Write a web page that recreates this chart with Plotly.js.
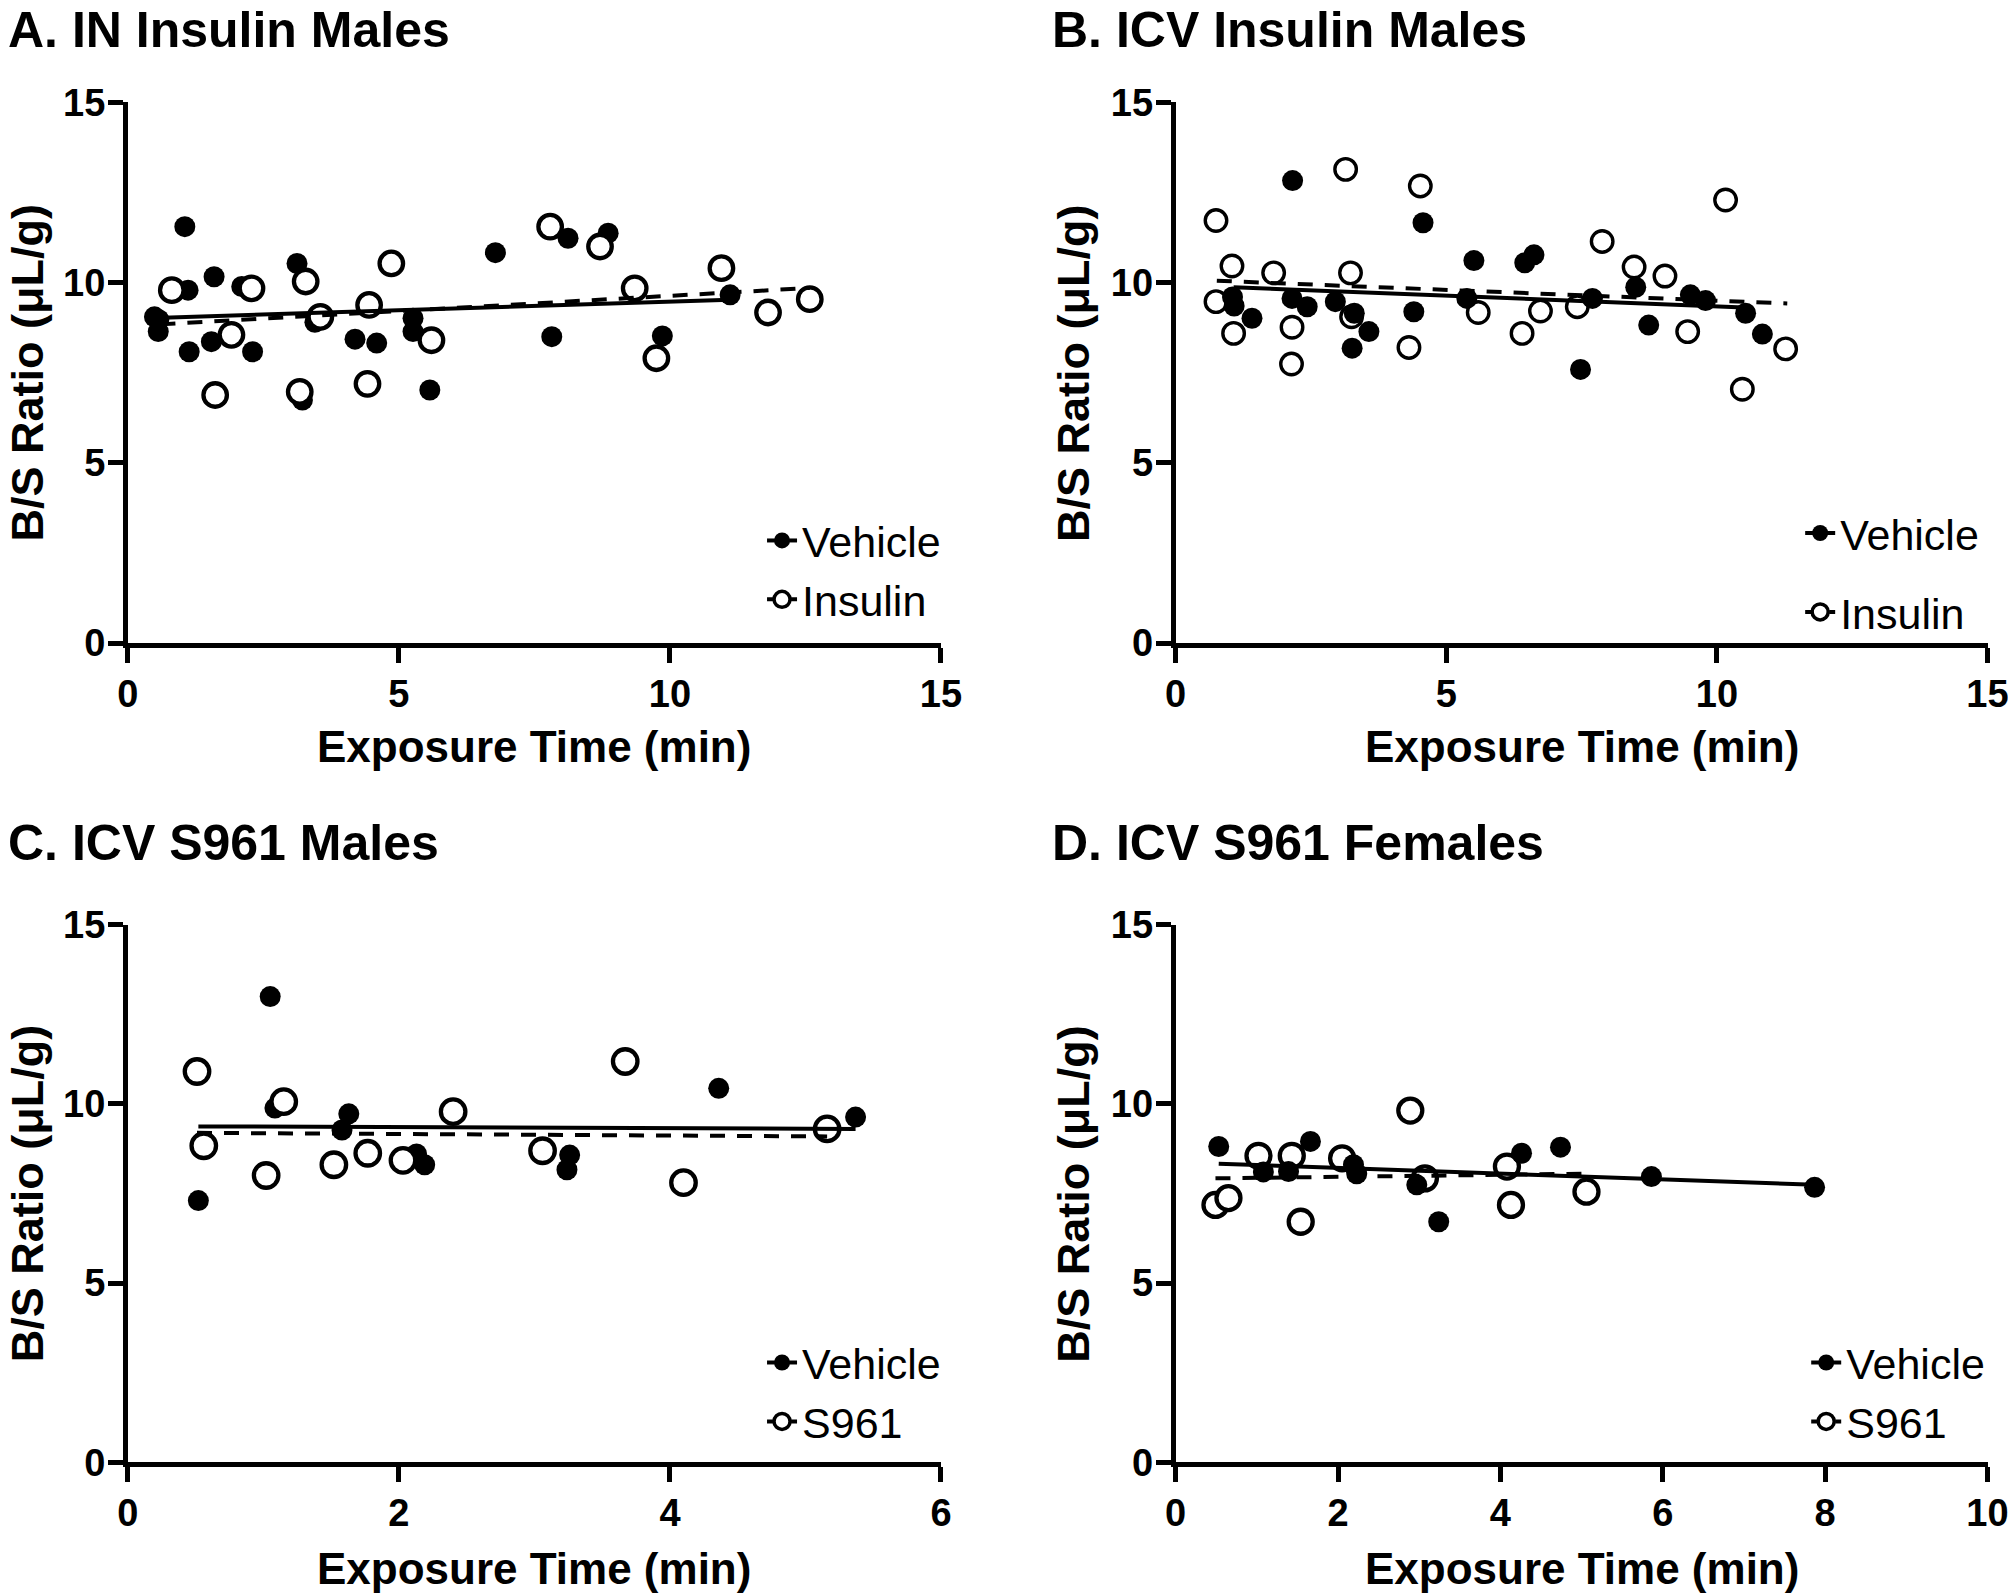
<!DOCTYPE html>
<html>
<head>
<meta charset="utf-8">
<script src="https://cdn.plot.ly/plotly-3.0.1.min.js"></script>
<style>html,body{margin:0;padding:0;background:#fff;}#chart{width:2008px;height:1594px;}</style>
</head>
<body>
<div id="chart"></div>
<script>
// ---------- Panel A: IN Insulin Males ----------
const aVehX = [0.49,0.57,0.56,1.05,1.11,1.13,1.54,1.59,2.10,2.30,3.12,3.22,3.45,4.19,4.59,5.26,5.26,5.57,5.65,6.78,7.82,8.12,8.86,9.86,11.11];
const aVehY = [9.05,8.97,8.64,11.55,9.79,8.08,8.36,10.16,9.89,8.08,10.53,6.74,8.90,8.43,8.32,9.01,8.64,7.02,8.45,10.83,8.50,11.23,11.37,8.52,9.66];
const aInsX = [0.81,1.61,1.91,2.28,3.17,3.28,3.55,4.42,4.45,4.86,5.60,7.79,8.71,9.35,9.75,10.95,11.81,12.58];
const aInsY = [9.79,6.88,8.55,9.84,6.97,10.03,9.05,7.19,9.38,10.53,8.40,11.55,11.00,9.84,7.90,10.40,9.17,9.54];
const aVehFitX = [0.50,11.11], aVehFitY = [9.02,9.52];
const aInsFitX = [0.60,12.58], aInsFitY = [8.84,9.85];

// ---------- Panel B: ICV Insulin Males ----------
const bVehX = [1.05,1.08,1.41,2.15,2.16,2.43,2.95,3.26,3.30,3.57,4.40,4.57,5.38,5.51,6.45,6.62,7.48,7.70,8.50,8.74,9.51,9.79,10.53,10.84];
const bVehY = [9.60,9.35,9.01,9.56,12.83,9.33,9.47,8.18,9.15,8.64,9.19,11.66,9.56,10.61,10.55,10.77,7.59,9.56,9.87,8.82,9.66,9.50,9.15,8.57];
const bInsX = [0.745,0.745,1.04,1.07,1.81,2.14,2.15,3.14,3.23,3.25,4.31,4.52,5.59,6.40,6.74,7.42,7.88,8.47,9.04,9.46,10.16,10.47,11.27];
const bInsY = [11.72,9.47,10.46,8.59,10.27,7.74,8.76,13.14,10.27,9.05,8.20,12.68,9.17,8.59,9.21,9.33,11.14,10.43,10.18,8.64,12.29,7.04,8.16];
const bVehFitX = [1.07,10.50], bVehFitY = [9.87,9.31];
const bInsFitX = [0.76,11.30], bInsFitY = [10.05,9.42];

// ---------- Panel C: ICV S961 Males ----------
const cVehX = [0.52,1.05,1.085,1.58,1.63,2.13,2.19,3.24,3.26,4.36,5.37];
const cVehY = [7.30,12.99,9.88,9.27,9.72,8.60,8.30,8.16,8.57,10.43,9.63];
const cS961X = [0.51,0.56,1.02,1.15,1.52,1.77,2.03,2.40,3.06,3.67,4.10,5.16];
const cS961Y = [10.90,8.83,8.00,10.06,8.30,8.62,8.42,9.78,8.69,11.18,7.80,9.30];
const cVehFitX = [0.52,5.37], cVehFitY = [9.37,9.30];
const cS961FitX = [0.51,5.16], cS961FitY = [9.19,9.09];

// ---------- Panel D: ICV S961 Females ----------
const dVehX = [0.53,1.08,1.39,1.66,2.19,2.23,2.97,3.24,4.26,4.74,5.86,7.87];
const dVehY = [8.81,8.10,8.11,8.95,8.30,8.05,7.74,6.71,8.62,8.79,7.97,7.67];
const dS961X = [0.49,0.65,1.02,1.43,1.54,2.05,2.89,3.07,4.08,4.13,5.06];
const dS961Y = [7.18,7.37,8.55,8.55,6.71,8.48,9.81,7.92,8.25,7.18,7.55];
const dVehFitX = [0.53,7.87], dVehFitY = [8.33,7.74];
const dS961FitX = [0.49,5.06], dS961FitY = [7.92,8.05];

// ---------- Text ----------
const panelTitles = ["A. IN Insulin Males","B. ICV Insulin Males","C. ICV S961 Males","D. ICV S961 Females"];
const xTitle = "Exposure Time (min)";
const yTitle = "B/S Ratio (\u03bcL/g)";
const groupNames = [["Vehicle","Insulin"],["Vehicle","Insulin"],["Vehicle","S961"],["Vehicle","S961"]];
const xRanges = [[0,15],[0,15],[0,6],[0,10]];
const xDticks = [5,5,2,2];
const yRange = [0,15];
const yDtick = 5;

const FONT = "Liberation Sans, Arial, sans-serif";
const BLACK = "#000";
const DASH = "15px,12px";

function filledTrace(x,y,ax){
  return {type:"scatter",mode:"markers",x:x,y:y,xaxis:"x"+ax,yaxis:"y"+ax,showlegend:false,hoverinfo:"skip",
    marker:{symbol:"circle",size:21,color:BLACK,line:{width:0}}};
}
function openTrace(x,y,ax,size,lw){
  return {type:"scatter",mode:"markers",x:x,y:y,xaxis:"x"+ax,yaxis:"y"+ax,showlegend:false,hoverinfo:"skip",
    marker:{symbol:"circle",size:size,color:"#fff",line:{width:lw,color:BLACK}}};
}
function fitTrace(x,y,ax,dash){
  return {type:"scatter",mode:"lines",x:x,y:y,xaxis:"x"+ax,yaxis:"y"+ax,showlegend:false,hoverinfo:"skip",
    line:{color:BLACK,width:4,dash:dash}};
}
function legendTrace(name,legend,open,dash,group,lw){
  return {type:"scatter",mode:"lines+markers",x:[null],y:[null],name:name,legend:legend,legendgroup:group,
    line:{color:BLACK,width:4,dash:dash},
    marker:open?{symbol:"circle",size:16,color:"#fff",line:{width:lw,color:BLACK}}
               :{symbol:"circle",size:16,color:BLACK,line:{width:0}}};
}

const axSuffix = ["","2","3","4"];
const traces = [
  // A
  filledTrace(aVehX,aVehY,""),
  openTrace(aInsX,aInsY,"",23.5,4.3),
  fitTrace(aVehFitX,aVehFitY,"","solid"),
  fitTrace(aInsFitX,aInsFitY,"",DASH),
  // B
  openTrace(bInsX,bInsY,"2",21.5,3.4),
  filledTrace(bVehX,bVehY,"2"),
  fitTrace(bVehFitX,bVehFitY,"2","solid"),
  fitTrace(bInsFitX,bInsFitY,"2",DASH),
  // C
  filledTrace(cVehX,cVehY,"3"),
  openTrace(cS961X,cS961Y,"3",24.5,4.3),
  fitTrace(cVehFitX,cVehFitY,"3","solid"),
  fitTrace(cS961FitX,cS961FitY,"3",DASH),
  // D
  openTrace(dS961X,dS961Y,"4",24,4.3),
  filledTrace(dVehX,dVehY,"4"),
  fitTrace(dVehFitX,dVehFitY,"4","solid"),
  fitTrace(dS961FitX,dS961FitY,"4",DASH),
];
const legendIds = ["legend","legend2","legend3","legend4"];
groupNames.forEach((g,i)=>{
  traces.push(legendTrace(g[0],legendIds[i],false,"solid","v"+i,4));
  traces.push(legendTrace(g[1],legendIds[i],true,"dash","t"+i,3.5));
});

const xDomains = [[0.0637,0.4686],[0.5855,0.9898],[0.0637,0.4686],[0.5855,0.9898]];
const yDomains = [[0.5966,0.9358],[0.5966,0.9358],[0.0826,0.4200],[0.0826,0.4200]];

const layout = {
  width:2008,height:1594,
  margin:{l:0,r:0,t:0,b:0},
  paper_bgcolor:"#fff",plot_bgcolor:"#fff",
  font:{family:FONT,color:BLACK},
  annotations:[],
};
function axisCommon(){
  return {showgrid:false,zeroline:false,showline:true,linecolor:BLACK,linewidth:5,
    ticks:"outside",ticklen:15,tickwidth:5,tickcolor:BLACK,ticklabeloverflow:"allow",
    tickfont:{family:FONT,size:38,color:BLACK,weight:"bold"},fixedrange:true};
}
for(let i=0;i<4;i++){
  const s = axSuffix[i];
  const xa = axisCommon();
  Object.assign(xa,{domain:xDomains[i],range:xRanges[i],dtick:xDticks[i],tick0:0,anchor:"y"+s,ticklabelstandoff:-2});
  const ya = axisCommon();
  Object.assign(ya,{domain:yDomains[i],range:yRange,dtick:yDtick,tick0:0,anchor:"x"+s,ticklabelstandoff:-5});
  layout["xaxis"+s] = xa;
  layout["yaxis"+s] = ya;
}
// panel titles
const titlePos = [[0.003,1.0,"top"],[0.5229,1.0,"top"],[0.003,0.4699,"middle"],[0.5229,0.4699,"middle"]];
panelTitles.forEach((t,i)=>{
  layout.annotations.push({text:t,xref:"paper",yref:"paper",x:titlePos[i][0],y:titlePos[i][1],
    xanchor:"left",yanchor:titlePos[i][2],yshift:(i<2?0:2),showarrow:false,font:{family:FONT,size:50,weight:"bold",color:BLACK}});
});
// axis titles
const xTitleY = [0.5314,0.5314,0.0157,0.0157];
const yTitleX = [0.0139,0.5345,0.0139,0.5345];
for(let i=0;i<4;i++){
  const xd = xDomains[i], yd = yDomains[i];
  layout.annotations.push({text:xTitle,xref:"paper",yref:"paper",x:(xd[0]+xd[1])/2,y:xTitleY[i],
    xanchor:"center",yanchor:"middle",showarrow:false,font:{family:FONT,size:44,weight:"bold",color:BLACK}});
  layout.annotations.push({text:yTitle,xref:"paper",yref:"paper",x:yTitleX[i],y:(yd[0]+yd[1])/2,textangle:-90,
    xanchor:"center",yanchor:"middle",showarrow:false,font:{family:FONT,size:45,weight:"bold",color:BLACK}});
}
// legends
const legendPos = [[0.3795,0.6424,0],[0.8965,0.6408,20],[0.3795,0.1267,0],[0.8995,0.1267,0]];
legendIds.forEach((id,i)=>{
  layout[id] = {x:legendPos[i][0],y:legendPos[i][1],xanchor:"left",yanchor:"middle",
    bgcolor:"rgba(0,0,0,0)",borderwidth:0,traceorder:"grouped",tracegroupgap:legendPos[i][2],
    font:{family:FONT,size:43,color:BLACK},itemclick:false,itemdoubleclick:false};
});

Plotly.newPlot("chart",traces,layout,{displayModeBar:false,staticPlot:true});
</script>
</body>
</html>
